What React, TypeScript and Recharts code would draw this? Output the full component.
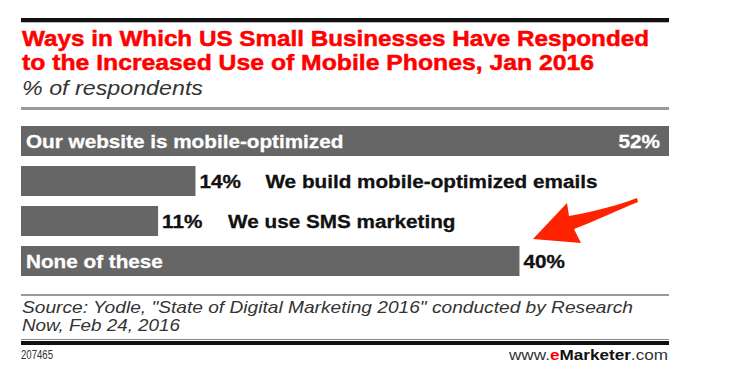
import React from "react";
import { BarChart, Bar, XAxis, YAxis, LabelList } from "recharts";

const categories = [
  "Our website is mobile-optimized",
  "We build mobile-optimized emails",
  "We use SMS marketing",
  "None of these",
];
const values = [52, 14, 11, 40];
const titleLines = [
  "Ways in Which US Small Businesses Have Responded",
  "to the Increased Use of Mobile Phones, Jan 2016",
];
const subtitle = "% of respondents";
const sourceLines = [
  'Source: Yodle, "State of Digital Marketing 2016" conducted by Research',
  "Now, Feb 24, 2016",
];
const chartId = "207465";

const data = categories.map((name, i) => ({ name, value: values[i] }));

const FONT = "'Liberation Sans', Arial, sans-serif";
const CHART_W = 648;
const CHART_H = 160;
const SX = 1.09;

const BarLabel = (props: any) => {
  const { x, y, width, height, index } = props;
  const name = categories[index];
  const v = values[index];
  const end = x + width;
  const cy = y + height / 2 + 7;
  const nameInside = width > 250;
  const valueInside = end + 45 > CHART_W;
  const style = { fontFamily: FONT, fontWeight: 700, fontSize: 19 } as any;
  const items: any[] = [];
  const dark = "#111111";
  const light = "#ffffff";
  if (valueInside) {
    items.push(
      <text key="v" transform={`translate(${end - 9},${cy}) scale(${SX},1)`} textAnchor="end" fill={light} stroke={light} strokeWidth={0.3} style={style}>
        {`${v}%`}
      </text>
    );
  } else {
    items.push(
      <text key="v" transform={`translate(${end + 4},${cy}) scale(${SX},1)`} textAnchor="start" fill={dark} stroke={dark} strokeWidth={0.3} style={style}>
        {`${v}%`}
      </text>
    );
  }
  if (nameInside) {
    items.push(
      <text key="n" transform={`translate(${x + 5},${cy}) scale(${SX},1)`} textAnchor="start" fill={light} stroke={light} strokeWidth={0.3} style={style}>
        {name}
      </text>
    );
  } else {
    items.push(
      <text key="n" transform={`translate(${end + 70},${cy}) scale(${SX},1)`} textAnchor="start" fill={dark} stroke={dark} strokeWidth={0.3} style={style}>
        {name}
      </text>
    );
  }
  return <g>{items}</g>;
};

export default function App() {
  return (
    <div
      style={{
        position: "absolute",
        left: 0,
        top: 0,
        width: 732,
        height: 386,
        background: "#ffffff",
        overflow: "hidden",
      }}
    >
      <svg
        width={732}
        height={386}
        style={{ position: "absolute", left: 0, top: 0 }}
      >
        <rect x={21} y={18} width={648} height={4} fill="#111111" />
        <rect x={21} y={22} width={648} height={1} fill="#bbbbbb" />
        <text x={22} y={46} fill="#ff0000" stroke="#ff0000" strokeWidth={0.5} textLength={627} lengthAdjust="spacingAndGlyphs"
          style={{ fontFamily: FONT, fontWeight: 700, fontSize: 22.5 }}>
          {titleLines[0]}
        </text>
        <text x={22} y={70} fill="#ff0000" stroke="#ff0000" strokeWidth={0.5} textLength={572} lengthAdjust="spacingAndGlyphs"
          style={{ fontFamily: FONT, fontWeight: 700, fontSize: 22.5 }}>
          {titleLines[1]}
        </text>
        <text x={22} y={95} fill="#333333" textLength={181} lengthAdjust="spacingAndGlyphs"
          style={{ fontFamily: FONT, fontStyle: "italic", fontSize: 19.5 }}>
          {subtitle}
        </text>
        <rect x={21} y={107} width={648} height={3} fill="#999999" />

        <rect x={21} y={294} width={648} height={2} fill="#999999" />
        <text x={22} y={313} fill="#333333" textLength={611} lengthAdjust="spacingAndGlyphs"
          style={{ fontFamily: FONT, fontStyle: "italic", fontSize: 16.5 }}>
          {sourceLines[0]}
        </text>
        <text x={22} y={331} fill="#333333" textLength={158} lengthAdjust="spacingAndGlyphs"
          style={{ fontFamily: FONT, fontStyle: "italic", fontSize: 16.5 }}>
          {sourceLines[1]}
        </text>
        <rect x={21} y={339} width={648} height={1} fill="#888888" />
        <rect x={21} y={341} width={648} height={4} fill="#111111" />
        <text x={21} y={359} fill="#333333" textLength={32} lengthAdjust="spacingAndGlyphs"
          style={{ fontFamily: FONT, fontSize: 12.5 }}>
          {chartId}
        </text>
        <text x={668} y={360} textAnchor="end" fill="#333333" textLength={159} lengthAdjust="spacingAndGlyphs"
          style={{ fontFamily: FONT, fontSize: 14.5 }}>
          <tspan>www.</tspan>
          <tspan fill="#ff0000" fontWeight={700}>e</tspan>
          <tspan fill="#111111" fontWeight={700}>Marketer</tspan>
          <tspan>.com</tspan>
        </text>

        <path
          d="M 637 198 C 616 206, 591 212, 569 216 L 567 203 L 533 239 L 581 243 L 574 229 C 598 220, 620 209, 638 202 Z"
          fill="#ff2200"
        />
      </svg>
      <div style={{ position: "absolute", left: 21, top: 121 }}>
        <BarChart
          width={CHART_W}
          height={CHART_H}
          data={data}
          layout="vertical"
          margin={{ top: 0, right: 0, bottom: 0, left: 0 }}
        >
          <XAxis type="number" domain={[0, 52]} hide />
          <YAxis type="category" dataKey="name" hide />
          <Bar dataKey="value" fill="#666666" barSize={30} isAnimationActive={false}>
            <LabelList dataKey="value" content={<BarLabel />} />
          </Bar>
        </BarChart>
      </div>
    </div>
  );
}
